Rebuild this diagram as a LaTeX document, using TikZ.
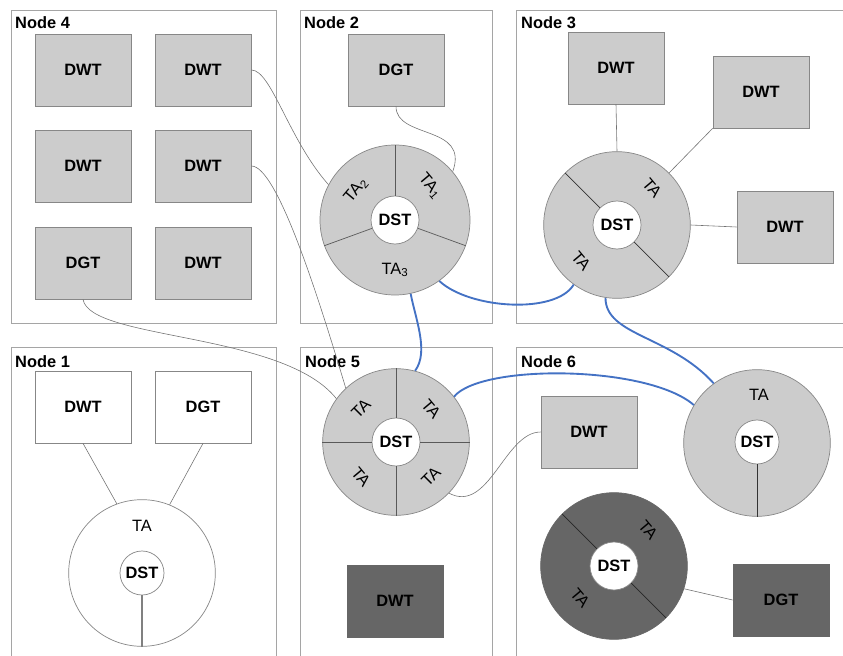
\documentclass[tikz,border=0pt]{standalone}
\usepackage{fontspec}
\setmainfont{Liberation Sans}
\usepackage{xcolor}
\definecolor{fillgray}{RGB}{204,204,204}
\definecolor{darkfill}{RGB}{102,102,102}
\definecolor{framegray}{RGB}{165,165,165}
\definecolor{edgegray}{RGB}{135,135,135}
\definecolor{linkblue}{RGB}{68,114,196}
\usepackage{tikz}

\begin{document}
\begin{tikzpicture}[x=0.03cm, y=-0.03cm,
  panel/.style={draw=framegray, line width=0.8pt},
  nodetitle/.style={font=\fontsize{14}{16}\selectfont\bfseries, anchor=base west, inner sep=0pt},
  box/.style={draw=edgegray, fill=fillgray, line width=0.6pt, minimum width=2.88cm, minimum height=2.16cm, inner sep=0pt, font=\fontsize{14}{16}\selectfont\bfseries},
  ring/.style={circle, draw=edgegray, fill=fillgray, line width=0.6pt, minimum size=4.4cm, inner sep=0pt},
  hub/.style={circle, draw=edgegray, fill=white, line width=0.6pt, minimum size=1.44cm, inner sep=0pt, font=\fontsize{14}{16}\selectfont\bfseries},
  talabel/.style={font=\fontsize{14}{16}\selectfont, inner sep=0pt},
  divider/.style={draw=black!65, line width=0.6pt},
  link/.style={draw=black!55, line width=0.5pt},
  trunk/.style={draw=linkblue, line width=1.6pt}]
  \useasboundingbox (0,0) rectangle (843,656);

  % --- Node 4 ---
  \draw[panel] (11,10) rectangle (276,323);
  \node[nodetitle] (t4) at (15,29) {Node 4};
  \node[box] (n4a) at (83,70) {DWT};
  \node[box] (n4b) at (203,70) {DWT};
  \node[box] (n4c) at (83,166) {DWT};
  \node[box] (n4d) at (203,166) {DWT};
  \node[box] (n4e) at (83,263) {DGT};
  \node[box] (n4f) at (203,263) {DWT};

  % --- Node 2 ---
  \draw[panel] (300,10) rectangle (492,323);
  \node[nodetitle] (t2) at (304,29) {Node 2};
  \node[box] (n2a) at (396,70) {DGT};
  \node[ring, minimum size=4.5cm] (r2) at (395,220) {};
  \node[hub] (h2) at (395,220) {DST};
  \foreach \a in {90,-20,200} \draw[divider] (h2.\a) -- (r2.\a);
  \node[talabel, rotate=-50] (ta21) at (430,186) {TA\textsubscript{1}};
  \node[talabel, rotate=50] (ta22) at (356,190) {TA\textsubscript{2}};
  \node[talabel] (ta23) at (395,270) {TA\textsubscript{3}};

  % --- Node 3 ---
  \draw[panel] (843,10) -| (516,323) -- (843,323);
  \node[nodetitle] (t3) at (521,29) {Node 3};
  \node[box] (n3a) at (616,68) {DWT};
  \node[box] (n3b) at (761,92) {DWT};
  \node[box] (n3c) at (785,227) {DWT};
  \node[ring] (r3) at (617,225) {};
  \node[hub] (h3) at (617,225) {DST};
  \draw[divider, black!80] (h3.135) -- (r3.135);
  \draw[divider, black!80] (h3.-45) -- (r3.-45);
  \node[talabel, rotate=-50] (ta31) at (652,188) {TA};
  \node[talabel, rotate=-50] (ta32) at (581,261) {TA};
  \draw[link] (n3a.south) -- (r3.90);
  \draw[link] (n3b.south west) -- (r3.45);
  \draw[link] (n3c.west) -- (r3.0);

  % --- Node 1 ---
  \draw[panel] (11,656) |- (276,347) -- (276,656);
  \node[nodetitle] (t1) at (15,367) {Node 1};
  \node[box, fill=white] (n1a) at (83,407) {DWT};
  \node[box, fill=white] (n1b) at (203,407) {DGT};
  \node[ring, fill=white] (r1) at (142,573) {};
  \node[hub, minimum size=1.32cm] (h1) at (142,573) {DST};
  \draw[divider, black!50, line width=1pt] (h1.south) -- (r1.south);
  \node[talabel] (ta1) at (142,526) {TA};
  \draw[link] (n1a.south) -- (r1.110);
  \draw[link] (n1b.south) -- (r1.68);

  % --- Node 5 ---
  \draw[panel] (300,656) |- (492,347) -- (492,656);
  \node[nodetitle] (t5) at (305,367) {Node 5};
  \node[ring] (r5) at (396,442) {};
  \node[hub] (h5) at (396,442) {DST};
  \foreach \a in {0,90,180,270} \draw[divider] (h5.\a) -- (r5.\a);
  \node[talabel, rotate=45] (ta51) at (361,409) {TA};
  \node[talabel, rotate=-50] (ta52) at (431,409) {TA};
  \node[talabel, rotate=-50] (ta53) at (361,477) {TA};
  \node[talabel, rotate=45] (ta54) at (431,477) {TA};
  \node[box, fill=darkfill, draw=black!60] (n5a) at (395,601) {DWT};

  % --- Node 6 ---
  \draw[panel] (516,656) |- (843,347);
  \node[nodetitle] (t6) at (521,367) {Node 6};
  \node[box] (n6a) at (589,432) {DWT};
  \node[ring] (r6) at (757,443) {};
  \node[hub, minimum size=1.32cm] (h6) at (757,442) {DST};
  \draw[divider, black!80] (h6.south) -- (r6.south);
  \node[talabel] (ta6) at (759,395) {TA};
  \node[ring, fill=darkfill, draw=black!60] (r6d) at (614,566) {};
  \node[hub] (h6d) at (614,566) {DST};
  \draw[divider, black!85] (h6d.135) -- (r6d.135);
  \draw[divider, black!85] (h6d.-45) -- (r6d.-45);
  \node[talabel, rotate=-50] (ta6a) at (648,530) {TA};
  \node[talabel, rotate=-50] (ta6b) at (580,598) {TA};
  \node[box, fill=darkfill, draw=black!60] (n6b) at (781,600) {DGT};
  \draw[link] (r6d.-18) -- (n6b.west);

  % thin links between nodes
  \draw[link] (n4b.east) .. controls +(20,0) and +(-40,-45) .. (r2.152);
  \draw[link] (n4d.east) .. controls +(25,0) and +(-30,-100) .. (r5.133);
  \draw[link] (n4e.south) .. controls +(7,41) and +(-53,-67) .. (r5.144);
  \draw[link] (n2a.south) .. controls +(0,33) and +(17,-47) .. (r2.40);
  \draw[link] (r5.-44) .. controls +(40,21) and +(-36,0) .. (n6a.west);

  % blue links between rings
  \draw[trunk] (r2.-54) .. controls +(30,28) and +(-18,30) .. (r3.234);
  \draw[trunk] (r2.-78) .. controls +(5,26) and +(14,-19) .. (r5.75);
  \draw[trunk] (r3.261) .. controls +(0,38) and +(-43,-48) .. (r6.126);
  \draw[trunk] (r5.38) .. controls +(27,-33) and +(-46,-40) .. (r6.149);
\end{tikzpicture}
\end{document}
